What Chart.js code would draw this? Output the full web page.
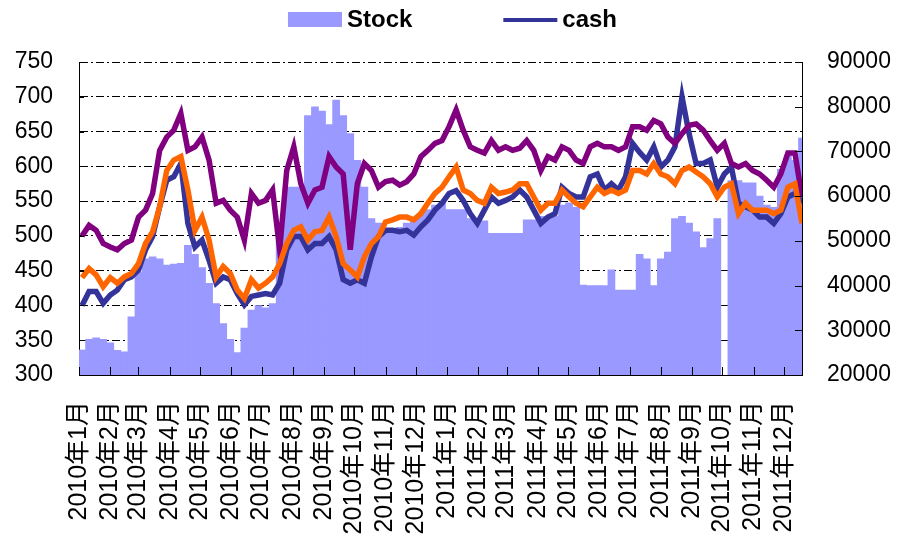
<!DOCTYPE html>
<html>
<head>
<meta charset="utf-8">
<script src="https://cdn.jsdelivr.net/npm/chart.js@4.4.0/dist/chart.umd.min.js"></script>
<style>
  html, body { margin: 0; padding: 0; background: #fff; }
  #wrap { width: 909px; height: 543px; }
</style>
</head>
<body>
<div id="wrap"><canvas id="stockChart"></canvas></div>
<script>
// month labels on the x axis
const months = [
    '2010年1月', '2010年2月', '2010年3月', '2010年4月', '2010年5月', '2010年6月',
    '2010年7月', '2010年8月', '2010年9月', '2010年10月', '2010年11月', '2010年12月',
    '2011年1月', '2011年2月', '2011年3月', '2011年4月', '2011年5月', '2011年6月',
    '2011年7月', '2011年8月', '2011年9月', '2011年10月', '2011年11月', '2011年12月'
];

// weekly readings, first week starts Monday 2010-01-04
const stock = [
    25600, 28000, 28300, 28000, 27200, 25500, 25200, 33000, 43000, 46000,
    46400, 46000, 44600, 44800, 45000, 49000, 47000, 44000, 40500, 36000,
    31500, 28000, 25000, 30500, 34500, 35500, 35000, 36000, 50000, 62000,
    62000, 62000, 78000, 80000, 79000, 76000, 81500, 78000, 74000, 68000,
    62000, 55000, 54000, 52000, 52500, 53000, 54000, 55000, 56000, 57000,
    58000, 58500, 57000, 57000, 57000, 55000, 54500, 54500, 51700, 51700,
    51700, 51700, 51700, 54700, 54700, 55500, 55500, 55500, 58000, 58500,
    57500, 40100, 40000, 40000, 40000, 43500, 39000, 39000, 39000, 47000,
    46000, 40000, 46000, 47500, 55000, 55500, 54000, 52000, 48500, 50500,
    55000, null, 63500, 63500, 63000, 63000, 60000, 58000, 57500, 66000,
    69000, 68000, 73000
];

const cash = [
    400, 420, 420, 403, 415, 422, 437, 441, 451, 480,
    499, 542, 580, 585, 604, 518, 484, 494, 465, 432,
    441, 437, 417, 401, 413, 415, 417, 415, 432, 480,
    499, 499, 480, 489, 489, 499, 480, 437, 432, 437,
    432, 470, 499, 508, 508, 506, 508, 501, 513, 523,
    537, 547, 561, 565, 551, 532, 518, 537, 556, 547,
    551, 556, 566, 556, 537, 518, 527, 532, 570, 561,
    556, 556, 585, 589, 566, 575, 566, 585, 633, 620,
    609, 628, 599, 609, 628, 700, 647, 604, 604, 609,
    570, 589, 599, 547, 542, 537, 527, 527, 518, 532,
    556, 561, 547
];

const line2 = [
    500, 515, 508, 489, 484, 480, 489, 494, 527, 537,
    561, 623, 642, 652, 676, 623, 628, 642, 609, 547,
    551, 537, 527, 494, 561, 547, 551, 566, 480, 594,
    628, 575, 547, 566, 570, 614, 599, 589, 480, 575,
    604, 594, 570, 578, 580, 573, 578, 589, 614, 623,
    633, 637, 657, 681, 652, 628, 623, 619, 637, 623,
    628, 623, 626, 637, 623, 594, 614, 609, 628, 623,
    609, 604, 628, 633, 628, 628, 623, 628, 657, 657,
    652, 666, 661, 642, 633, 647, 659, 661, 652, 637,
    623, 633, 604, 599, 604, 594, 589, 580, 570, 589,
    619, 619, 556
];

const line3 = [
    440, 453, 444, 427, 440, 432, 441, 446, 460, 489,
    506, 542, 594, 609, 614, 566, 508, 527, 494, 441,
    456, 446, 422, 410, 437, 425, 432, 441, 460, 489,
    508, 513, 494, 506, 508, 527, 499, 460, 451, 441,
    470, 489, 499, 520, 523, 527, 527, 523, 532, 547,
    561, 570, 585, 599, 566, 561, 551, 547, 570, 561,
    563, 566, 575, 575, 556, 537, 547, 547, 566, 556,
    547, 542, 556, 570, 561, 566, 561, 566, 594, 594,
    589, 604, 589, 585, 575, 594, 599, 592, 585, 575,
    556, 570, 575, 532, 547, 537, 537, 537, 532, 537,
    570, 575, 518
];

const fontFamily = '"Liberation Sans", Arial, "Noto Sans CJK SC", sans-serif';

// days counted from 2010-01-01
const DAY = 864e5;
const origin = Date.UTC(2010, 0, 1);
const monthStarts = months.map((m, i) => (Date.UTC(2010 + Math.floor(i / 12), i % 12, 1) - origin) / DAY);
const firstWeek = (Date.UTC(2010, 0, 4) - origin) / DAY;
const lastDay = (Date.UTC(2011, 11, 19) - origin) / DAY;
const toPoints = (arr) => arr.map((v, i) => ({ x: firstWeek + i * 7, y: v }));

// small inward tick marks on the three axes
const axisTicks = {
    id: 'axisTicks',
    afterDraw(chart) {
        const { ctx, chartArea, scales } = chart;
        ctx.save();
        ctx.strokeStyle = '#000';
        ctx.lineWidth = 1;
        ctx.beginPath();
        scales.y.ticks.forEach(t => {
            const y = Math.round(scales.y.getPixelForValue(t.value)) + 0.5;
            ctx.moveTo(chartArea.left, y);
            ctx.lineTo(chartArea.left + 5, y);
        });
        scales.y1.ticks.forEach(t => {
            const y = Math.round(scales.y1.getPixelForValue(t.value)) + 0.5;
            ctx.moveTo(chartArea.right, y);
            ctx.lineTo(chartArea.right - 7, y);
        });
        scales.x.ticks.forEach(t => {
            const x = Math.round(scales.x.getPixelForValue(t.value)) + 0.5;
            ctx.moveTo(x, chartArea.bottom);
            ctx.lineTo(x, chartArea.bottom - 8);
        });
        ctx.stroke();
        ctx.restore();
    }
};

// legend with only Stock and cash
const topLegend = {
    id: 'topLegend',
    afterDraw(chart) {
        const ctx = chart.ctx;
        const sets = chart.data.datasets.slice(0, 2);
        ctx.save();
        ctx.font = 'bold 24px ' + fontFamily;
        ctx.textBaseline = 'middle';
        const keyW = 54, textGap = 5, itemGap = 91, y = 20;
        const widths = sets.map(d => keyW + textGap + ctx.measureText(d.label).width);
        let x = (chart.width - (widths[0] + itemGap + widths[1])) / 2 - 2;
        sets.forEach((d, i) => {
            if (d.type === 'bar') {
                ctx.fillStyle = d.backgroundColor;
                ctx.fillRect(x, y - 8, keyW, 15);
            } else {
                ctx.strokeStyle = d.borderColor;
                ctx.lineWidth = 4;
                ctx.beginPath();
                ctx.moveTo(x, y);
                ctx.lineTo(x + keyW, y);
                ctx.stroke();
            }
            ctx.fillStyle = '#000';
            ctx.fillText(d.label, x + keyW + textGap, y);
            x += widths[i] + itemGap;
        });
        ctx.restore();
    }
};

const ctx = document.getElementById('stockChart').getContext('2d');
const stockChart = new Chart(ctx, {
    type: 'line',
    data: {
        datasets: [{
            type: 'bar',
            label: 'Stock',
            data: toPoints(stock),
            yAxisID: 'y1',
            backgroundColor: '#9999FF',
            borderColor: '#9999FF',
            borderWidth: 0,
            barPercentage: 1,
            categoryPercentage: 1,
            order: 4
        }, {
            label: 'cash',
            data: toPoints(cash),
            yAxisID: 'y',
            borderColor: '#333399',
            borderWidth: 5.5,
            pointRadius: 0,
            tension: 0,
            order: 3
        }, {
            label: 'line2',
            data: toPoints(line2),
            yAxisID: 'y',
            borderColor: '#800080',
            borderWidth: 5.5,
            pointRadius: 0,
            tension: 0,
            order: 2
        }, {
            label: 'line3',
            data: toPoints(line3),
            yAxisID: 'y',
            borderColor: '#FF6600',
            borderWidth: 5.5,
            pointRadius: 0,
            tension: 0,
            order: 1
        }]
    },
    options: {
        responsive: true,
        maintainAspectRatio: false,
        animation: false,
        layout: {
            padding: { top: 62, left: 0, right: 0, bottom: 0 }
        },
        plugins: {
            legend: { display: false },
            tooltip: { enabled: false }
        },
        scales: {
            x: {
                type: 'linear',
                min: 0,
                max: lastDay,
                offset: false,
                afterBuildTicks: (scale) => {
                    scale.ticks = monthStarts.map(v => ({ value: v }));
                },
                afterFit: (scale) => {
                    scale.height = 168;
                },
                grid: { display: false, drawTicks: false },
                border: { display: true, color: '#000', width: 1 },
                ticks: {
                    autoSkip: false,
                    minRotation: 90,
                    maxRotation: 90,
                    padding: 26,
                    color: '#000',
                    font: { family: fontFamily, size: 25 },
                    callback: (value, index) => months[index]
                }
            },
            y: {
                position: 'left',
                min: 300,
                max: 750,
                afterFit: (scale) => {
                    scale.width = 79;
                },
                grid: { color: '#000', lineWidth: 1, drawTicks: false },
                border: { display: true, color: '#000', width: 1, dash: [8, 3, 2, 3] },
                ticks: {
                    stepSize: 50,
                    padding: 26,
                    color: '#000',
                    font: { family: fontFamily, size: 23 }
                }
            },
            y1: {
                position: 'right',
                min: 20000,
                max: 90000,
                afterFit: (scale) => {
                    scale.width = 107;
                },
                grid: { drawOnChartArea: false, drawTicks: false },
                border: { display: true, color: '#000', width: 1 },
                ticks: {
                    stepSize: 10000,
                    padding: 25,
                    color: '#000',
                    font: { family: fontFamily, size: 23 },
                    callback: (value) => String(value)
                }
            }
        }
    },
    plugins: [axisTicks, topLegend]
});
</script>
</body>
</html>
